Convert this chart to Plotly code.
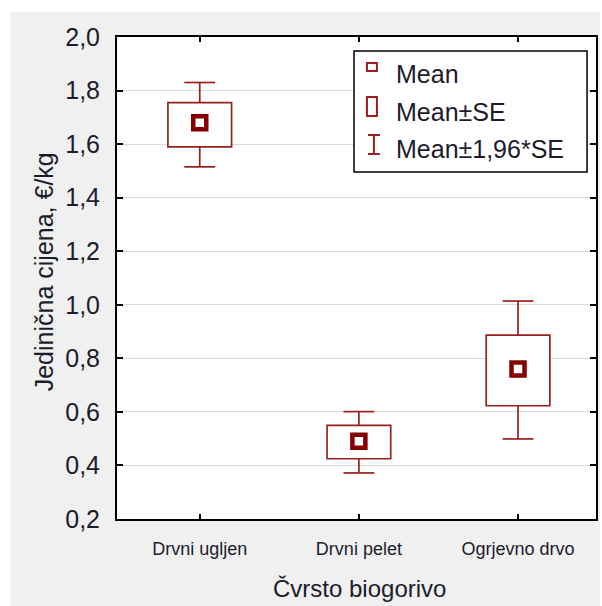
import plotly.graph_objects as go

# ---- data ----
categories = ["Drvni ugljen", "Drvni pelet", "Ogrjevno drvo"]
mean_vals = [1.68, 0.49, 0.76]
se_low = [1.59, 0.425, 0.623]
se_high = [1.755, 0.55, 0.887]
ci_low = [1.515, 0.372, 0.499]
ci_high = [1.83, 0.601, 1.014]
y_tickvals = [0.2, 0.4, 0.6, 0.8, 1.0, 1.2, 1.4, 1.6, 1.8, 2.0]
y_ticktext = ["0,2", "0,4", "0,6", "0,8", "1,0", "1,2", "1,4", "1,6", "1,8", "2,0"]
legend_labels = ["Mean", "Mean±SE", "Mean±1,96*SE"]

# ---- styling ----
W, H = 602, 606
L, R, T, B = 117, 598, 37, 519  # plot area in pixels
LINE = "#9a2020"
MEANC = "#870000"
TXT = "#1c1c2c"
FONT = "Liberation Sans, Arial, sans-serif"
box_w = 0.40
cap_half = 0.097


def px(x):
    return (x - L) / (R - L)


def py(y):
    return (B - y) / (B - T)


x_pos = list(range(len(categories)))

# whisker segments from box edge to CI limit with caps
wx, wy = [], []
for i in x_pos:
    wx += [i, i, None, i - cap_half, i + cap_half, None]
    wy += [se_high[i], ci_high[i], None, ci_high[i], ci_high[i], None]
    wx += [i, i, None, i - cap_half, i + cap_half, None]
    wy += [se_low[i], ci_low[i], None, ci_low[i], ci_low[i], None]

fig = go.Figure()
fig.add_trace(go.Scatter(x=wx, y=wy, mode="lines", line=dict(color=LINE, width=1.7),
                         hoverinfo="skip", showlegend=False))
fig.add_trace(go.Bar(x=x_pos, y=[h - l for h, l in zip(se_high, se_low)], base=se_low,
                     width=box_w, marker=dict(color="white", line=dict(color=LINE, width=1.7)),
                     showlegend=False))
fig.add_trace(go.Scatter(x=x_pos, y=mean_vals, mode="markers",
                         marker=dict(symbol="square-open", size=13, color=MEANC,
                                     line=dict(width=4.5, color=MEANC)),
                         showlegend=False))

shapes = [
    dict(type="rect", xref="paper", yref="paper", x0=px(10), x1=px(W), y0=py(H), y1=py(12),
         fillcolor="#f0f0f0", line=dict(width=0), layer="below"),
    dict(type="rect", xref="paper", yref="paper", x0=0, x1=1, y0=0, y1=1,
         fillcolor="white", line=dict(width=0), layer="below"),
    # legend frame
    dict(type="rect", xref="paper", yref="paper", x0=px(355), x1=px(589), y0=py(172), y1=py(51),
         fillcolor="white", line=dict(color="black", width=1.5)),
    # legend symbols
    dict(type="rect", xref="paper", yref="paper", x0=px(368), x1=px(378), y0=py(71), y1=py(63),
         line=dict(color=LINE, width=2)),
    dict(type="rect", xref="paper", yref="paper", x0=px(368), x1=px(378), y0=py(116), y1=py(97),
         line=dict(color=LINE, width=2)),
    dict(type="line", xref="paper", yref="paper", x0=px(375), x1=px(375), y0=py(154), y1=py(135),
         line=dict(color=LINE, width=2)),
    dict(type="line", xref="paper", yref="paper", x0=px(369), x1=px(381), y0=py(135), y1=py(135),
         line=dict(color=LINE, width=2)),
    dict(type="line", xref="paper", yref="paper", x0=px(369), x1=px(381), y0=py(154), y1=py(154),
         line=dict(color=LINE, width=2)),
]

annotations = []
for lab, yc in zip(legend_labels, [74, 112, 149]):
    annotations.append(dict(text=lab, xref="paper", yref="paper", x=px(395), y=py(yc),
                            xanchor="left", yanchor="middle", showarrow=False,
                            font=dict(family=FONT, size=25, color=TXT)))
annotations.append(dict(text="Čvrsto biogorivo", xref="paper", yref="paper", x=px(361), y=py(588),
                        xanchor="center", yanchor="middle", showarrow=False,
                        font=dict(family=FONT, size=24, color=TXT)))
annotations.append(dict(text="Jedinična cijena, €/kg", xref="paper", yref="paper", x=px(44), y=py(272),
                        xanchor="center", yanchor="middle", showarrow=False, textangle=-90,
                        font=dict(family=FONT, size=25, color=TXT)))

fig.update_layout(
    width=W, height=H,
    margin=dict(l=L, r=W - R, t=T, b=H - B, pad=0),
    paper_bgcolor="white", plot_bgcolor="white",
    showlegend=False, shapes=shapes, annotations=annotations,
    font=dict(family=FONT, color=TXT),
)
fig.update_xaxes(range=[-0.52, 2.49], tickmode="array", tickvals=x_pos, ticktext=categories,
                 ticks="inside", ticklen=5, tickwidth=1.5, tickcolor="black",
                 showline=True, linecolor="black", linewidth=2, mirror="ticks",
                 showgrid=False, zeroline=False, ticklabelstandoff=12,
                 tickfont=dict(family=FONT, size=18, color=TXT))
fig.update_yaxes(range=[0.2, 2.0], tickmode="array", tickvals=y_tickvals, ticktext=y_ticktext,
                 ticks="inside", ticklen=6, tickwidth=1.5, tickcolor="black",
                 showline=True, linecolor="black", linewidth=2, mirror="ticks",
                 showgrid=True, gridcolor="#dadada", gridwidth=1, zeroline=False,
                 ticklabelstandoff=10,
                 tickfont=dict(family=FONT, size=25, color=TXT))

fig.write_html("out.html", config={"displayModeBar": False},
               post_script="document.body.style.margin='0';")
